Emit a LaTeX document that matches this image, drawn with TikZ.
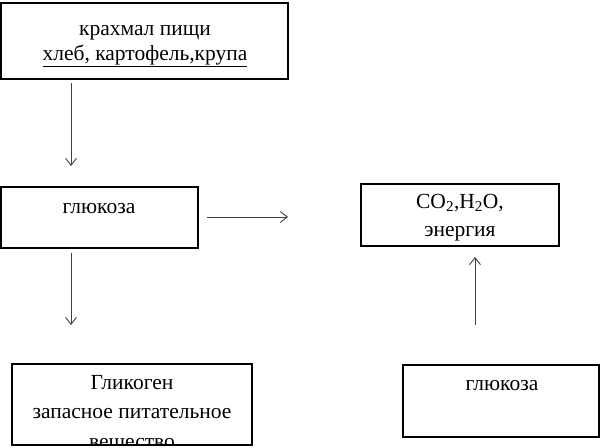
\documentclass[tikz,border=0pt]{standalone}
\usepackage{fontspec}
\setmainfont{Liberation Serif}
\usetikzlibrary{arrows.meta}
\tikzset{
  box/.style={draw=black, line width=2.6pt, fill=white, inner sep=0pt},
  txt/.style={anchor=base, inner sep=0pt, font=\fontsize{21.5}{25}\selectfont},
  arr/.style={draw=black!75, line width=0.9pt, -{Straight Barb[length=7pt,width=11pt,line width=0.9pt]}}
}
\begin{document}
\begin{tikzpicture}[x=1pt,y=-1pt]
\useasboundingbox (0,0) rectangle (604,447);
% boxes
\node[box, minimum width=287pt, minimum height=76pt] (b1) at (144.5,41) {};
\node[box, minimum width=197pt, minimum height=61pt] (b2) at (99.5,217.5) {};
\node[box, minimum width=198pt, minimum height=62pt] (b3) at (460,215) {};
\node[box, minimum width=196pt, minimum height=72pt] (b4) at (501,401) {};
\node[box, minimum width=240pt, minimum height=81pt] (b5) at (132,404.5) {};
% texts
\node[txt] (t1) at (145,35) {крахмал пищи};
\node[txt] (t2) at (145,60) {\underline{хлеб, картофель,крупа}};
\node[txt] (t3) at (99,213) {глюкоза};
\node[txt] (t4) at (460,208) {CO\textsubscript{2},H\textsubscript{2}O,};
\node[txt] (t5) at (460,236) {энергия};
\node[txt] (t6) at (502,390) {глюкоза};
\node[txt] (t7) at (132,389) {Гликоген};
\begin{scope}
\clip ([xshift=1.3pt,yshift=1.3pt]b5.south west) rectangle ([xshift=-1.3pt,yshift=-1.3pt]b5.north east);
\node[txt] (t8) at (132,418) {запасное питательное};
\node[txt] (t9) at (132,448) {вещество};
\end{scope}
% arrow ends
\coordinate (a1s) at (71,83);  \coordinate (a1e) at (71,166);
\coordinate (a2s) at (207,217); \coordinate (a2e) at (288,217);
\coordinate (a3s) at (71,253); \coordinate (a3e) at (71,325);
\coordinate (a4s) at (475,325); \coordinate (a4e) at (475,257);
\draw[arr] (a1s) -- (a1e);
\draw[arr] (a2s) -- (a2e);
\draw[arr] (a3s) -- (a3e);
\draw[arr] (a4s) -- (a4e);
\end{tikzpicture}
\end{document}
